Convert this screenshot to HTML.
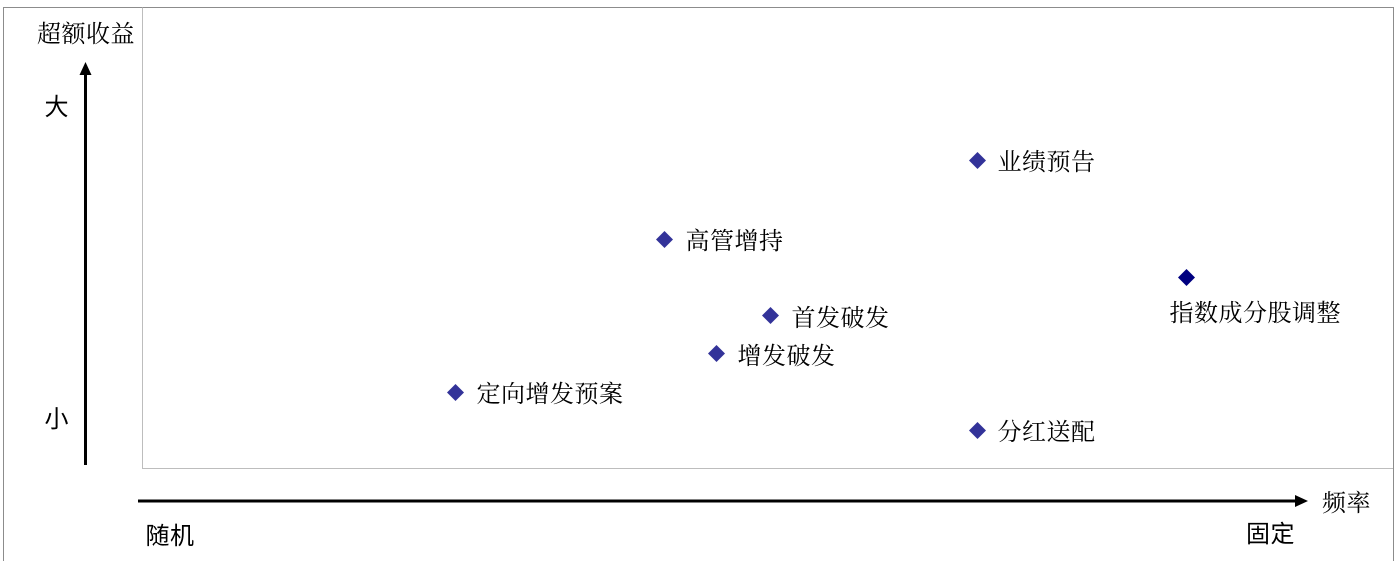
<!DOCTYPE html>
<html>
<head>
<meta charset="utf-8">
<style>
html,body{margin:0;padding:0;background:#fff;width:1398px;height:561px;overflow:hidden}
svg{display:block}
text{font-family:"Noto Serif CJK SC",serif;font-size:24px;fill:#000;font-weight:400;letter-spacing:.5px}
.b{font-family:"Noto Sans CJK SC",sans-serif;font-weight:400}
</style>
</head>
<body>
<svg width="1398" height="561" viewBox="0 0 1398 561" xmlns="http://www.w3.org/2000/svg">
<rect x="0" y="0" width="1398" height="561" fill="#fff"/>
<path d="M3.5 561V7.500H1393.500V561" fill="none" stroke="#8c8c8c" stroke-width="1"/>
<path d="M142.500 7.500V468.500H1393" fill="none" stroke="#bdbdbd" stroke-width="1"/>
<line x1="85.500" y1="465" x2="85.500" y2="74" stroke="#000" stroke-width="3"/>
<polygon points="85.500,62 79.500,75 91.500,75" fill="#000"/>
<line x1="138" y1="501" x2="1296" y2="501" stroke="#000" stroke-width="3"/>
<polygon points="1308,501 1295,495 1295,507" fill="#000"/>
<g fill="#333399">
<polygon points="977.500,152 986,160.500 977.500,169 969,160.500"/>
<polygon points="664.500,231 673,239.500 664.500,248 656,239.500"/>
<polygon points="770.500,307 779,315.500 770.500,324 762,315.500"/>
<polygon points="716.500,345 725,353.500 716.500,362 708,353.500"/>
<polygon points="455.500,384 464,392.500 455.500,401 447,392.500"/>
<polygon points="977.500,422 986,430.500 977.500,439 969,430.500"/>
</g>
<polygon points="1186.500,269 1195,277.500 1186.500,286 1178,277.500" fill="#000080"/>
<text x="37" y="42">超额收益</text>
<text class="b" x="44.500" y="115">大</text>
<text class="b" x="44.500" y="427">小</text>
<text x="997.500" y="170">业绩预告</text>
<text x="685.500" y="249">高管增持</text>
<text x="791.500" y="326">首发破发</text>
<text x="737.500" y="364">增发破发</text>
<text x="476.500" y="402">定向增发预案</text>
<text x="997.500" y="440">分红送配</text>
<text x="1169.500" y="321">指数成分股调整</text>
<text class="b" x="145.500" y="544">随机</text>
<text class="b" x="1246" y="542">固定</text>
<text x="1322" y="511">频率</text>
</svg>
</body>
</html>
